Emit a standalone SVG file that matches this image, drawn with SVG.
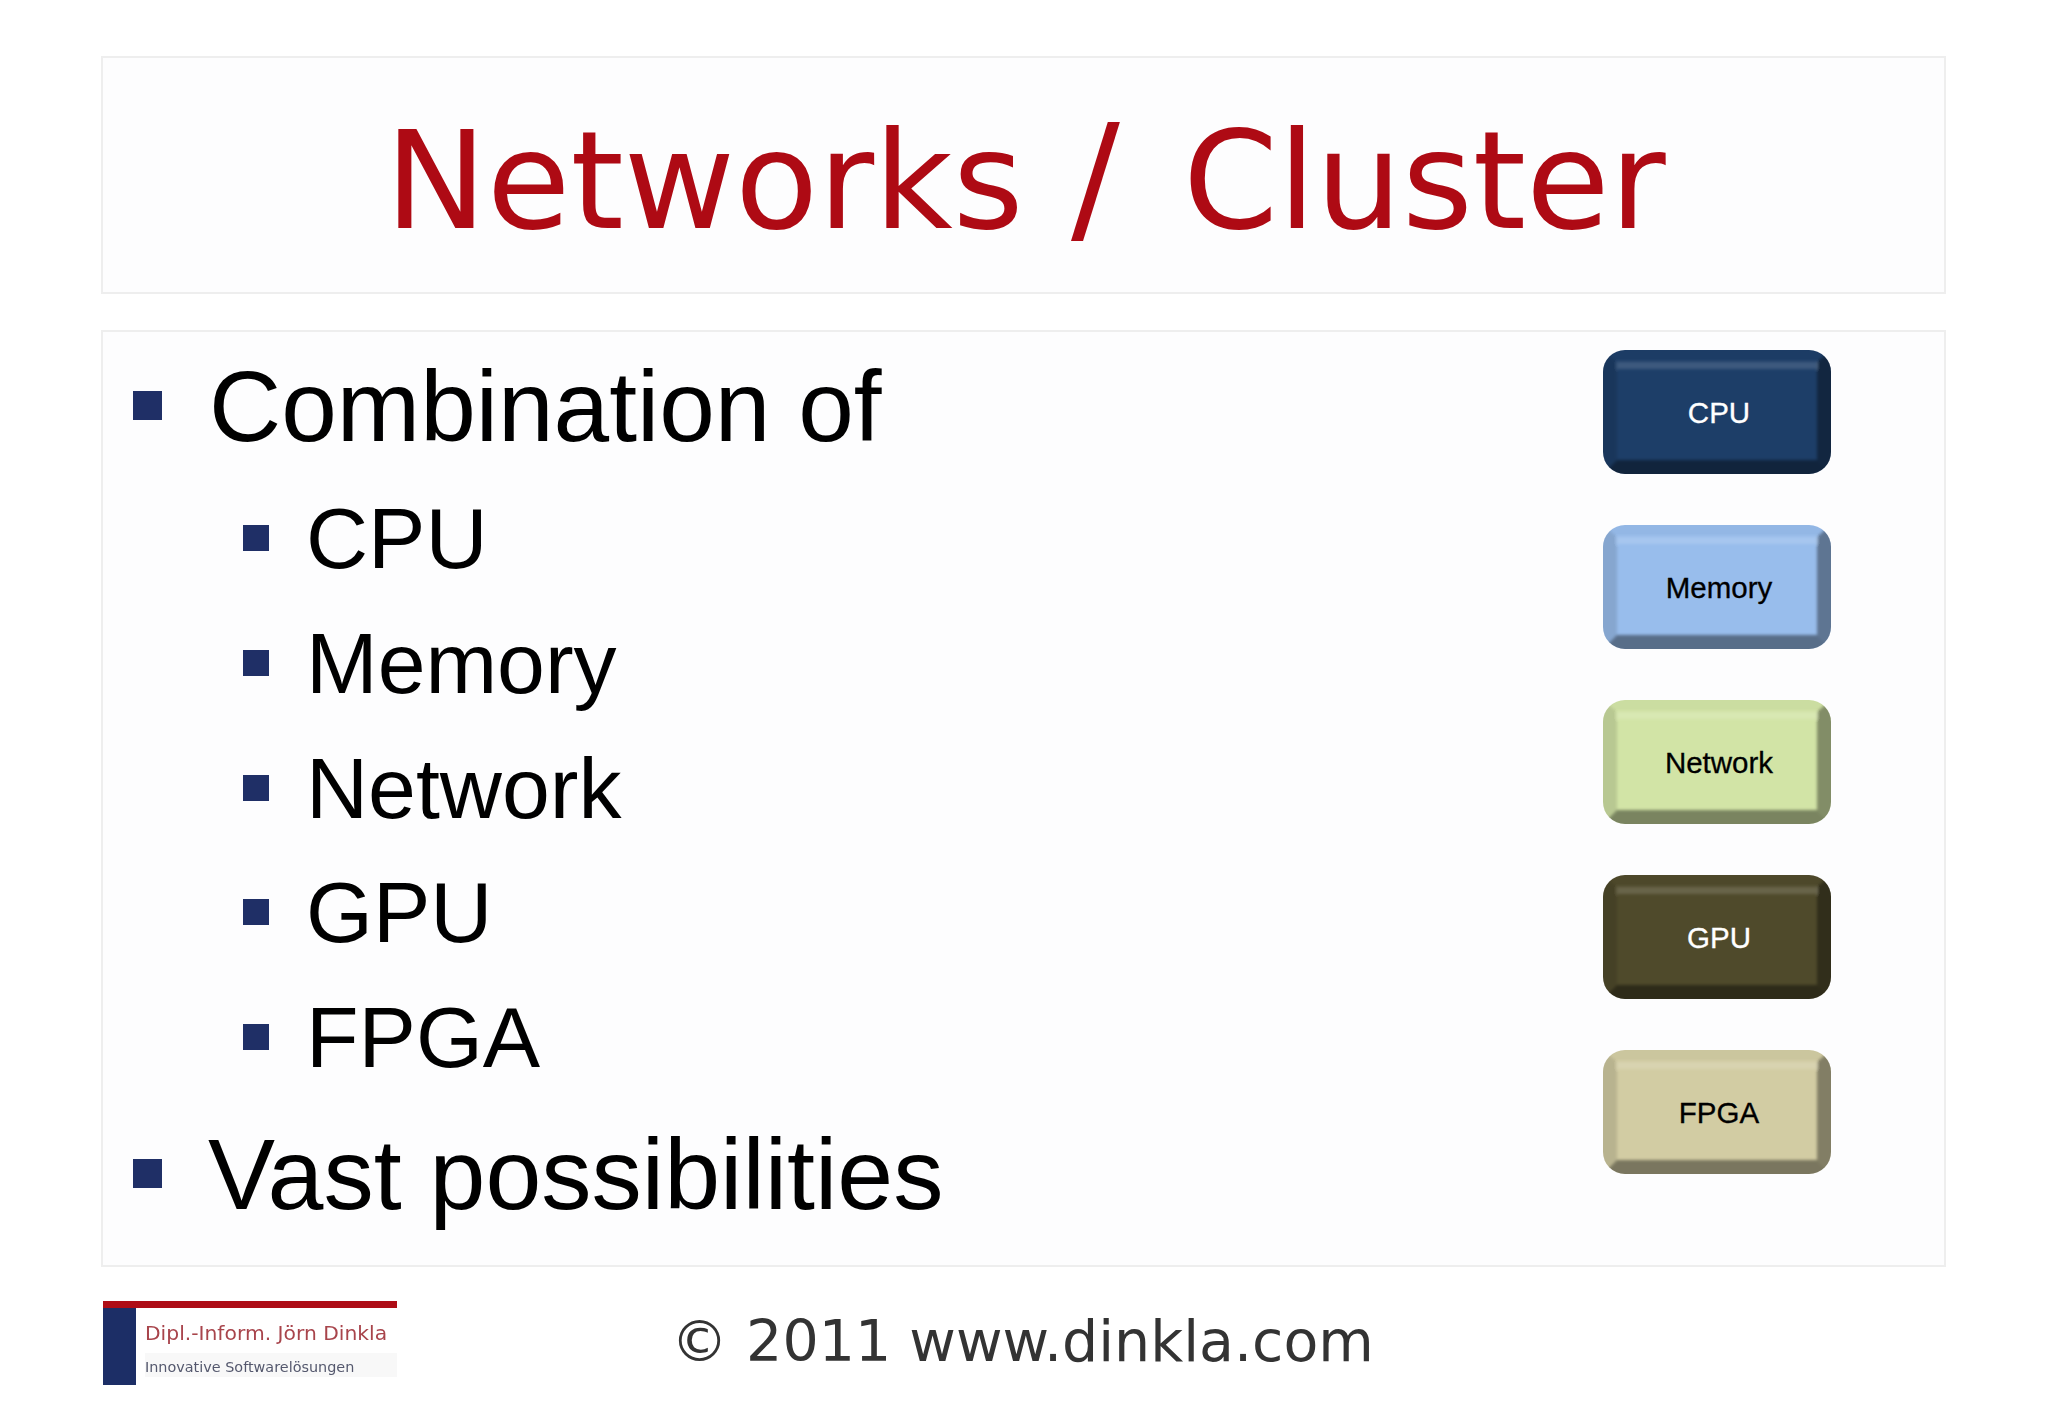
<svg xmlns="http://www.w3.org/2000/svg" width="2048" height="1418" viewBox="0 0 2048 1418">
<style>
.panel{fill:#fdfdfe;stroke:#eeeeee;stroke-width:2}
.title{font-family:"DejaVu Sans",Verdana,sans-serif;font-size:136px;fill:#ae0a14}
.b1{font-family:"Liberation Sans",Arial,sans-serif;font-size:100px;fill:#000}
.b2{font-family:"Liberation Sans",Arial,sans-serif;font-size:86px;fill:#000}
.nl{font-family:"Liberation Sans",Arial,sans-serif;font-size:29.500px;text-anchor:middle;stroke-width:.3}
.bul{fill:#1f2f66}
.foot{font-family:"DejaVu Sans",Verdana,sans-serif;font-size:57px;fill:#333}
</style>
<defs>
<clipPath id="c"><rect width="228" height="124" rx="22"/></clipPath>
<filter id="soft" x="-5%" y="-5%" width="110%" height="110%"><feGaussianBlur stdDeviation="1.800"/></filter>
<filter id="logoblur" x="-2%" y="-5%" width="104%" height="110%"><feGaussianBlur stdDeviation=".6"/></filter>
<g id="bevel" clip-path="url(#c)">
<g filter="url(#soft)">
<path d="M-4 -4H232L214 12H14Z" fill="#000" fill-opacity=".03"/>
<path d="M-4 -4L14 12V110L-4 128Z" fill="#000" fill-opacity=".12"/>
<path d="M232 -4L214 12V110L232 128Z" fill="#000" fill-opacity=".38"/>
<path d="M-4 128L14 110H214L232 128Z" fill="#000" fill-opacity=".42"/>
<rect x="14" y="12" width="200" height="7" fill="#fff" fill-opacity=".14"/>
</g>
</g>
</defs>
<rect width="2048" height="1418" fill="#fff"/>
<rect class="panel" x="102" y="57" width="1843" height="236"/>
<rect class="panel" x="102" y="331" width="1843" height="935"/>
<text class="title" y="228"><tspan x="385">Networks</tspan> <tspan x="1071" style="font-size:145px">/</tspan> <tspan x="1183">Cluster</tspan></text>
<rect class="bul" x="133" y="391" width="29" height="29"/>
<text class="b1" x="209" y="441">Combination of</text>
<rect class="bul" x="243" y="525" width="26" height="26"/>
<text class="b2" x="306" y="568">CPU</text>
<rect class="bul" x="243" y="650" width="26" height="26"/>
<text class="b2" x="306" y="693">Memory</text>
<rect class="bul" x="243" y="775" width="26" height="26"/>
<text class="b2" x="306" y="818">Network</text>
<rect class="bul" x="243" y="899" width="26" height="26"/>
<text class="b2" x="306" y="942">GPU</text>
<rect class="bul" x="243" y="1024" width="26" height="26"/>
<text class="b2" x="306" y="1067">FPGA</text>
<rect class="bul" x="133" y="1159" width="29" height="29"/>
<text class="b1" x="208" y="1209" style="font-size:100.500px">Vast possibilities</text>
<g id="connectors"></g>
<g id="node-cpu" transform="translate(1603 350)"><rect width="228" height="124" rx="22" fill="#1d3e68"/><use href="#bevel"/><text class="nl" x="116" y="73" fill="#fff" stroke="#fff">CPU</text></g>
<g id="node-memory" transform="translate(1603 525)"><rect width="228" height="124" rx="22" fill="#98bdec"/><use href="#bevel"/><text class="nl" x="116" y="73" fill="#000" stroke="#000">Memory</text></g>
<g id="node-network" transform="translate(1603 700)"><rect width="228" height="124" rx="22" fill="#d2e4a6"/><use href="#bevel"/><text class="nl" x="116" y="73" fill="#000" stroke="#000">Network</text></g>
<g id="node-gpu" transform="translate(1603 875)"><rect width="228" height="124" rx="22" fill="#4f4a2b"/><use href="#bevel"/><text class="nl" x="116" y="73" fill="#fff" stroke="#fff">GPU</text></g>
<g id="node-fpga" transform="translate(1603 1050)"><rect width="228" height="124" rx="22" fill="#d2cca3"/><use href="#bevel"/><text class="nl" x="116" y="73" fill="#000" stroke="#000">FPGA</text></g>
<g id="logo" filter="url(#logoblur)">
<rect x="145" y="1353" width="252" height="24" fill="#f8f8f8"/>
<rect x="103" y="1301" width="294" height="7" fill="#ae0a14"/>
<rect x="103" y="1308" width="33" height="77" fill="#1f2f66"/>
<text x="145" y="1340" font-family="'DejaVu Sans',sans-serif" font-size="20.300" fill="#a8444c">Dipl.-Inform. Jörn Dinkla</text>
<text x="145" y="1372" font-family="'DejaVu Sans',sans-serif" font-size="14.400" fill="#55596e">Innovative Softwarelösungen</text>
</g>
<text class="foot" x="671" y="1361">© 2011 www.dinkla.com</text>
</svg>
